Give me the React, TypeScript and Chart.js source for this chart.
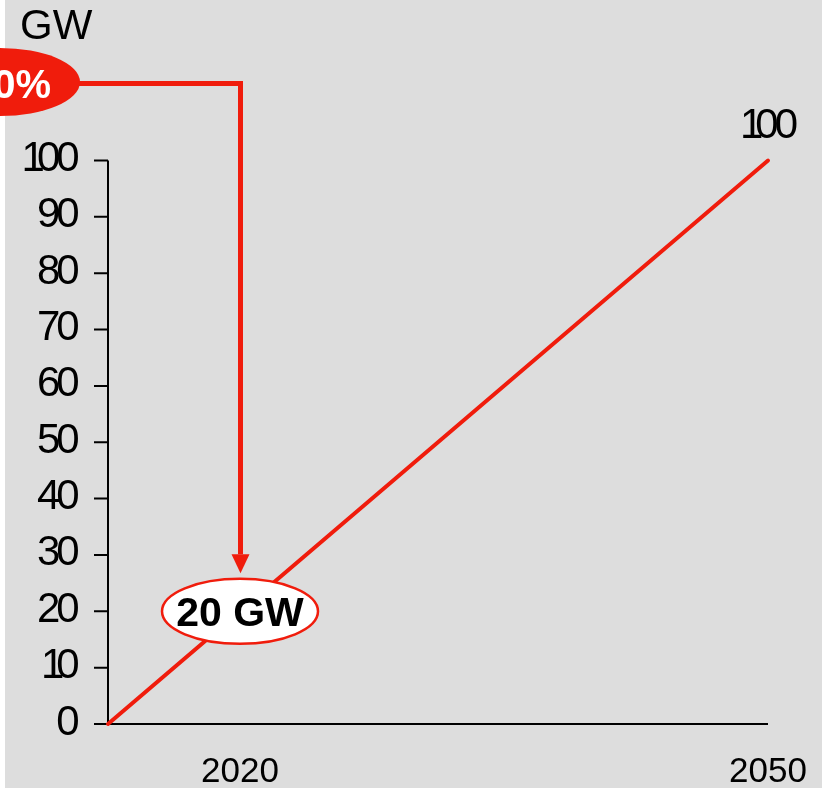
import React, { useEffect, useRef } from "react";
import { Chart, registerables } from "chart.js";

Chart.register(...registerables);

// ---- data ----
const years = [2012.5, 2020, 2050];
const capacityGW = [0, 20, 100];
const yTickValues = [0, 10, 20, 30, 40, 50, 60, 70, 80, 90, 100];
const xTickYears = [2020, 2050];
const unitLabel = "GW";
const shareLabel = "20%";
const calloutLabel = "20 GW";
const calloutYear = 2020;
const calloutValue = 20;
const endLabel = "100";

const RED = "#f01c0c";
const GRAY = "#dddddd";
const FONT = '"Liberation Sans", Arial, sans-serif';

// tight digit spacing like the original (narrow "1")
function gapAfter(c: string) {
  return c === "1" ? -8 : -4;
}

function drawSpaced(ctx: CanvasRenderingContext2D, text: string, x: number, y: number, align: "right" | "center") {
  const chars = text.split("");
  const widths = chars.map((c) => ctx.measureText(c).width);
  let total = 0;
  chars.forEach((c, i) => {
    total += widths[i];
    if (i < chars.length - 1) total += gapAfter(c);
  });
  const start = align === "right" ? x - total : x - total / 2;
  ctx.save();
  ctx.textAlign = "left";
  let cur = start;
  chars.forEach((c, i) => {
    ctx.fillText(c, cur, y);
    cur += widths[i] + gapAfter(c);
  });
  ctx.restore();
}

const decorPlugin = {
  id: "decor",
  beforeDraw(chart: any) {
    const ctx = chart.ctx;
    ctx.save();
    ctx.fillStyle = "#ffffff";
    ctx.fillRect(0, 0, chart.width, chart.height);
    ctx.fillStyle = GRAY;
    ctx.fillRect(5, 0, 817, chart.height);
    ctx.restore();
  },
  beforeDatasetsDraw(chart: any) {
    const ctx = chart.ctx;
    const xs = chart.scales.x;
    const ys = chart.scales.y;
    const left = xs.getPixelForValue(xs.min);
    const right = xs.getPixelForValue(xs.max);
    const bottom = ys.getPixelForValue(0);
    const top = ys.getPixelForValue(100);
    ctx.save();
    ctx.strokeStyle = "#000";
    ctx.lineWidth = 2;
    ctx.beginPath();
    ctx.moveTo(left, top);
    ctx.lineTo(left, bottom + 1);
    ctx.moveTo(left, bottom);
    ctx.lineTo(right, bottom);
    yTickValues.forEach((v) => {
      const py = ys.getPixelForValue(v);
      ctx.moveTo(left - 14, py);
      ctx.lineTo(left, py);
    });
    ctx.stroke();

    // y tick labels
    ctx.fillStyle = "#000";
    ctx.font = `42px ${FONT}`;
    ctx.textBaseline = "alphabetic";
    yTickValues.forEach((v) => {
      const py = ys.getPixelForValue(v);
      drawSpaced(ctx, String(v), left - 28.4, py + 10.5, "right");
    });

    // x tick labels
    ctx.font = `35px ${FONT}`;
    ctx.textAlign = "center";
    xTickYears.forEach((yr) => {
      ctx.fillText(String(yr), xs.getPixelForValue(yr), 782);
    });

    // unit label
    ctx.font = `42px ${FONT}`;
    ctx.textAlign = "left";
    ctx.fillText(unitLabel, 20, 39);
    ctx.restore();
  },
  afterDatasetsDraw(chart: any) {
    const ctx = chart.ctx;
    const xs = chart.scales.x;
    const ys = chart.scales.y;
    const cx = xs.getPixelForValue(calloutYear);
    const cy = ys.getPixelForValue(calloutValue);
    ctx.save();

    // arrow path
    const ax = cx + 0.5;
    const ay = 83.5;
    ctx.strokeStyle = RED;
    ctx.lineWidth = 5;
    ctx.lineJoin = "miter";
    ctx.beginPath();
    ctx.moveTo(60, ay);
    ctx.lineTo(ax, ay);
    ctx.lineTo(ax, cy - 57);
    ctx.stroke();
    ctx.fillStyle = RED;
    ctx.beginPath();
    ctx.moveTo(ax - 9, cy - 57);
    ctx.lineTo(ax + 9, cy - 57);
    ctx.lineTo(ax, cy - 38);
    ctx.closePath();
    ctx.fill();

    // red share ellipse
    ctx.beginPath();
    ctx.ellipse(0, 82, 80, 34, 0, 0, Math.PI * 2);
    ctx.fill();
    ctx.fillStyle = "#ffffff";
    ctx.font = `bold 40px ${FONT}`;
    ctx.textAlign = "right";
    ctx.textBaseline = "alphabetic";
    ctx.fillText(shareLabel, 51, 98);

    // callout ellipse
    ctx.beginPath();
    ctx.ellipse(cx, cy, 78, 32.5, 0, 0, Math.PI * 2);
    ctx.fillStyle = "#ffffff";
    ctx.fill();
    ctx.strokeStyle = RED;
    ctx.lineWidth = 2.5;
    ctx.stroke();
    ctx.fillStyle = "#000";
    ctx.textAlign = "center";
    ctx.font = `bold 41px ${FONT}`;
    ctx.fillText(calloutLabel, cx, cy + 14.5);

    // end label
    const lx = xs.getPixelForValue(years[years.length - 1]);
    const ly = ys.getPixelForValue(capacityGW[capacityGW.length - 1]);
    ctx.font = `42px ${FONT}`;
    drawSpaced(ctx, endLabel, lx + 1, ly - 22.5, "center");
    ctx.restore();
  },
};

export default function App() {
  const ref = useRef<HTMLCanvasElement | null>(null);
  useEffect(() => {
    if (!ref.current) return;
    const chart = new Chart(ref.current, {
      type: "line",
      data: {
        datasets: [
          {
            data: years.map((yr, i) => ({ x: yr, y: capacityGW[i] })),
            borderColor: RED,
            borderWidth: 4,
            borderCapStyle: "round",
            pointRadius: 0,
            tension: 0,
            clip: false as any,
          },
        ],
      },
      options: {
        responsive: false,
        animation: false,
        devicePixelRatio: 1,
        layout: { padding: { left: 108, right: 58, top: 160.5, bottom: 64 } },
        plugins: { legend: { display: false }, tooltip: { enabled: false } },
        scales: {
          x: { type: "linear", min: years[0], max: years[years.length - 1], display: false },
          y: { type: "linear", min: 0, max: 100, display: false },
        },
      },
      plugins: [decorPlugin],
    });
    return () => chart.destroy();
  }, []);
  return (
    <div style={{ position: "fixed", left: 0, top: 0, width: 826, height: 788, background: "#fff" }}>
      <canvas ref={ref} width={826} height={788} style={{ display: "block" }} />
    </div>
  );
}
